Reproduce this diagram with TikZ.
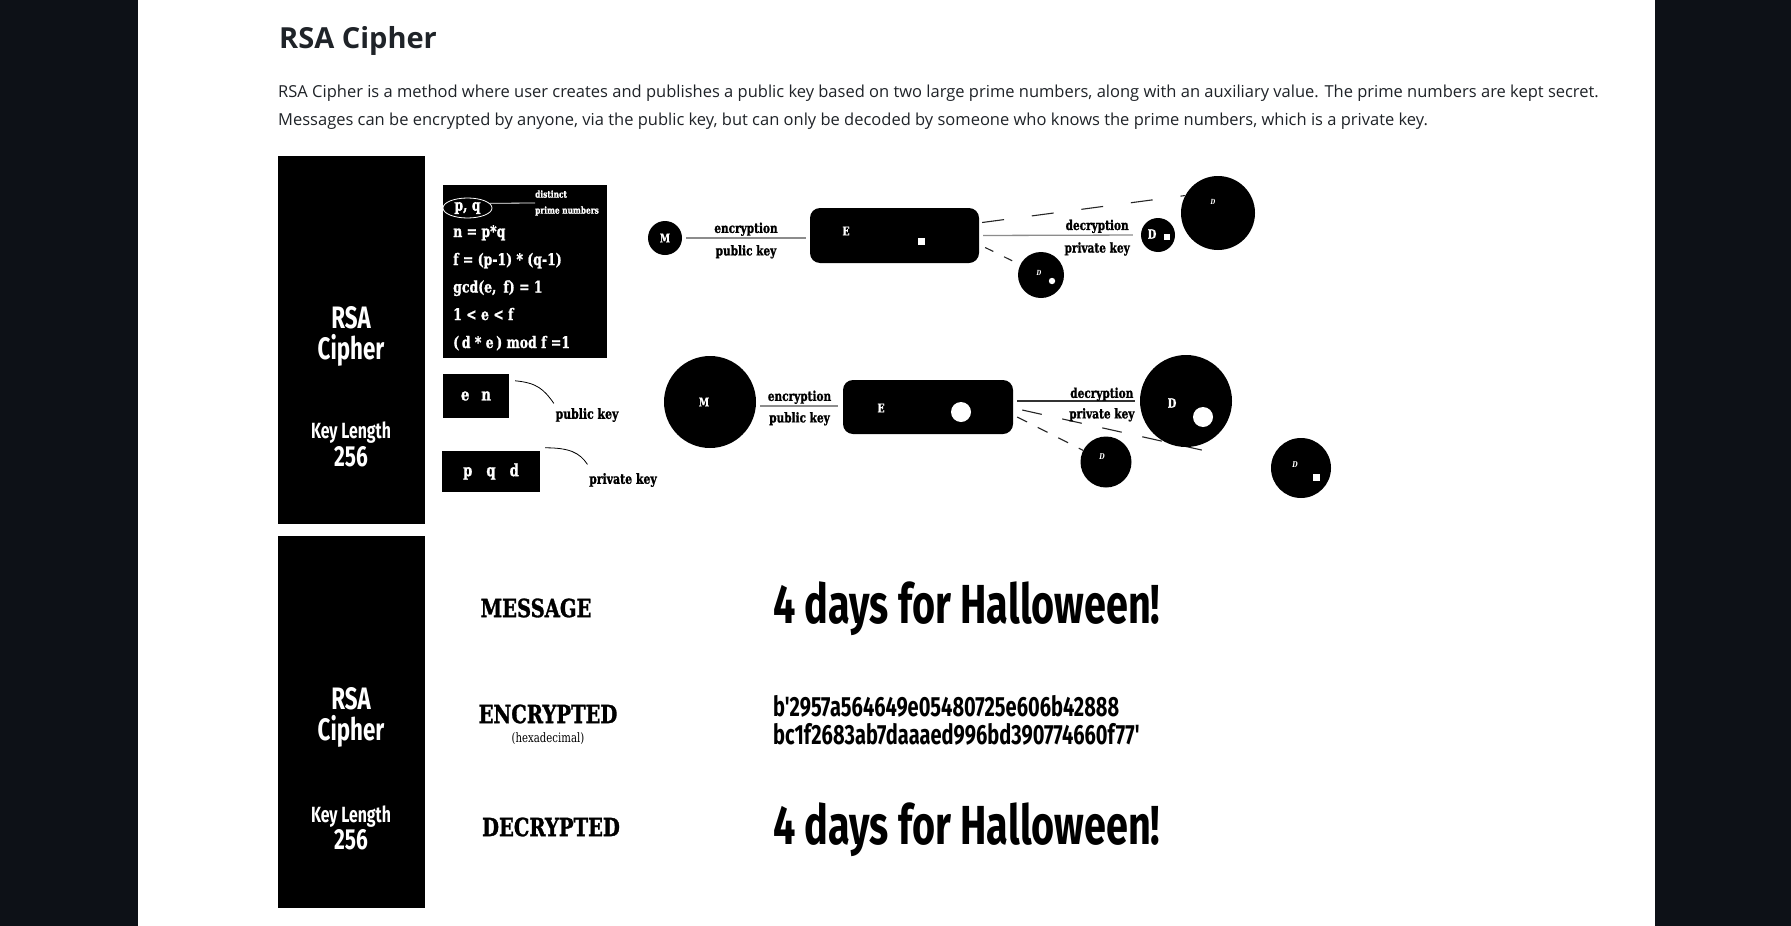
\documentclass[tikz,border=0pt]{standalone}
\usepackage{fontspec}
\setmainfont{Open Sans}
\newfontfamily\merri[FakeStretch=0.78, BoldFeatures={FakeBold=1.2}]{DejaVu Serif}
\newfontfamily\oswald[FakeStretch=0.72]{Fira Sans}
\usetikzlibrary{shapes.geometric}
\definecolor{page}{HTML}{0D1117}
\definecolor{ink}{HTML}{1F2328}
\definecolor{rulegray}{HTML}{8C8C8C}

\begin{document}
\begin{tikzpicture}[x=1pt, y=-1pt,
  blob/.style={circle, fill=black, inner sep=0pt},
  slab/.style={rectangle, fill=black, inner sep=0pt},
  sidetxt/.style={text=white, align=center, inner sep=0pt},
  fml/.style={anchor=base west, text=white, inner sep=0pt, font=\merri\bfseries\fontsize{16}{18}\selectfont},
  wlbl/.style={text=white, inner sep=0pt, font=\merri\bfseries\fontsize{12}{14}\selectfont},
  dmark/.style={text=white, inner sep=0pt, font=\merri\bfseries\itshape\fontsize{7}{8}\selectfont},
  flowlbl/.style={inner sep=1.5pt, font=\merri\bfseries\fontsize{13.5}{15}\selectfont},
  link/.style={draw=rulegray, line width=1.3pt},
  dashline/.style={draw=black!85, line width=1.1pt},
  bigserif/.style={inner sep=0pt, font=\merri\bfseries\fontsize{25}{28}\selectfont},
  halo/.style={anchor=base west, inner sep=0pt, font=\oswald\bfseries\fontsize{55}{60}\selectfont},
  hexline/.style={anchor=base west, inner sep=0pt, font=\oswald\bfseries\fontsize{27.8}{30}\selectfont}]

  % Page
  \fill[page] (0,0) rectangle (1791,926);
  \fill[white] (138,0) rectangle (1655,926);
  \useasboundingbox (0,0) rectangle (1791,926);

  % Heading and text
  \node[anchor=base west, inner sep=0pt, text=ink, font=\bfseries\fontsize{29}{34}\selectfont] (title) at (279,48) {RSA Cipher};
  \node[anchor=base west, inner sep=0pt, text=ink, font=\fontsize{16.5}{20}\selectfont] (intro1) at (278,97)
    {RSA Cipher is a method where user creates and publishes a public key based on two large prime numbers, along with an auxiliary value. The prime numbers are kept secret.};
  \node[anchor=base west, inner sep=0pt, text=ink, font=\fontsize{16.5}{20}\selectfont] (intro2) at (278,125)
    {Messages can be encrypted by anyone, via the public key, but can only be decoded by someone who knows the prime numbers, which is a private key.};

  % Side panels
  \node[slab, minimum width=147pt, minimum height=368pt] (side1) at (351.5,340) {};
  \node[sidetxt, font=\oswald\bfseries\fontsize{31}{31}\selectfont] (name1) at (351,336) {RSA\\Cipher};
  \node[sidetxt, font=\oswald\bfseries\fontsize{22}{24}\selectfont] (klen1) at (351,433) {Key Length};
  \node[sidetxt, font=\oswald\bfseries\fontsize{29}{30}\selectfont] (kval1) at (351,457) {256};

  \node[slab, minimum width=147pt, minimum height=372pt] (side2) at (351.5,722) {};
  \node[sidetxt, font=\oswald\bfseries\fontsize{31}{31}\selectfont] (name2) at (351,717) {RSA\\Cipher};
  \node[sidetxt, font=\oswald\bfseries\fontsize{22}{24}\selectfont] (klen2) at (351,817) {Key Length};
  \node[sidetxt, font=\oswald\bfseries\fontsize{29}{30}\selectfont] (kval2) at (351,840) {256};

  % Key formulas
  \node[slab, minimum width=164pt, minimum height=173pt] (rules) at (525,271.5) {};
  \node[ellipse, draw=white, line width=0.8pt, text=white, inner sep=0pt,
        minimum width=49pt, minimum height=20pt, font=\merri\bfseries\fontsize{16}{18}\selectfont] (pq) at (467.5,208) {p, q};
  \node[anchor=west, text=white, align=left, inner sep=0pt,
        font=\merri\bfseries\fontsize{9.5}{16}\selectfont] (primes) at (535,203) {distinct\\prime numbers};
  \draw[white, line width=0.8pt] (pq.12) -- (primes.west);
  \node[fml] at (453,237) {n = p*q};
  \node[fml] at (453,265) {f = (p-1) * (q-1)};
  \node[fml] at (453,292.5) {gcd(e,\, f) = 1};
  \node[fml] at (453,320) {1 < e < f};
  \node[fml] at (453,348) {(\,d * e\,) mod f =1};

  % Keys
  \node[slab, minimum width=66pt, minimum height=44pt, text=white,
        font=\merri\bfseries\fontsize{17}{18}\selectfont] (en) at (476,396) {e\hspace{12pt}n};
  \node[flowlbl, font=\merri\bfseries\fontsize{14}{15}\selectfont] (pub) at (587,415) {public key};
  \draw[line width=0.8pt] ([xshift=6pt,yshift=-7pt]en.north east) .. controls +(22,2) and +(-10,-14) .. ([yshift=3pt]pub.north west);

  \node[slab, minimum width=98pt, minimum height=41pt, text=white,
        font=\merri\bfseries\fontsize{17}{18}\selectfont] (pqd) at (491,471.5) {p\hspace{14pt}q\hspace{14pt}d};
  \node[flowlbl, font=\merri\bfseries\fontsize{14}{15}\selectfont] (priv) at (623,480) {private key};
  \draw[line width=0.8pt] ([xshift=5pt,yshift=3pt]pqd.north east) .. controls +(24,0) and +(-8,-12) .. ([yshift=7pt]priv.north west);

  % Small flow
  \node[blob, minimum size=34pt] (m1) at (665,238) {};
  \node[wlbl] at (m1) {M};
  \node[slab, rounded corners=10pt, minimum width=169pt, minimum height=55pt] (e1) at (894.5,235.5) {};
  \node[wlbl] at (846,231) {E};
  \fill[white] (917.5,237.5) rectangle (924.5,244.5);
  \node[blob, minimum size=34pt] (d1) at (1158,235) {};
  \node[wlbl, font=\merri\bfseries\fontsize{13}{14}\selectfont] at (1152,234) {D};
  \fill[white] (1164,234) rectangle (1170,240);
  \node[blob, minimum size=74pt] (d2) at (1218,213) {};
  \node[dmark] at (1213,202) {D};
  \node[blob, minimum size=46pt] (d3) at (1041,275) {};
  \node[dmark] at (1039,273) {D};
  \fill[white] (1052,281) circle (3.2pt);

  \draw[link, shorten <=4pt, shorten >=4pt] (m1.east) -- (m1.east -| e1.west)
    node[flowlbl, midway, above] {encryption}
    node[flowlbl, midway, below=5pt] {public key};
  \draw[link, shorten <=4pt, shorten >=8pt] (e1.east) -- (d1.west)
    node[flowlbl, pos=0.73, above] {decryption}
    node[flowlbl, pos=0.73, below=5pt] {private key};
  \draw[dashline, dash pattern=on 22pt off 28pt] ([xshift=3pt,yshift=13pt]e1.east) -- (d2.152);
  \draw[dashline, dash pattern=on 9pt off 12pt] ([xshift=6pt,yshift=-12pt]e1.east) -- (d3);

  % Large flow
  \node[blob, minimum size=92pt] (m2) at (710,402) {};
  \node[wlbl] at (704,402) {M};
  \node[slab, rounded corners=10pt, minimum width=170pt, minimum height=54pt] (e2) at (928,407) {};
  \node[wlbl] at (881,408) {E};
  \fill[white] (961,412) circle (10pt);

  \coordinate (tail) at (1215,453);
  \draw[dashline, dash pattern=on 20pt off 21pt] ([xshift=9pt,yshift=-3pt]e2.east) -- (tail);

  \node[blob, minimum size=92pt] (d4) at (1186,401) {};
  \node[wlbl, font=\merri\bfseries\fontsize{13}{14}\selectfont] at (1172,403) {D};
  \fill[white] (1203,417) circle (10pt);
  \node[blob, minimum size=51pt] (d5) at (1106,462) {};
  \node[dmark, font=\merri\bfseries\itshape\fontsize{8}{9}\selectfont] at (1102,457) {D};
  \node[blob, minimum size=60pt] (d6) at (1301,468) {};
  \node[dmark, font=\merri\bfseries\itshape\fontsize{8}{9}\selectfont] at (1295,465) {D};
  \fill[white] (1312.5,473.5) rectangle (1319.5,480.5);

  \draw[link, shorten <=4pt, shorten >=5pt] ([yshift=-4pt]m2.east) -- ([yshift=-4pt]m2.east -| e2.west)
    node[flowlbl, midway, above] {encryption}
    node[flowlbl, midway, below=4pt] {public key};
  \draw[link, draw=black!80, shorten <=4pt, shorten >=5pt] (e2.east |- d4) -- (d4.west)
    node[flowlbl, pos=0.70, above=-2pt] {decryption}
    node[flowlbl, pos=0.70, below=5pt] {private key};
  \draw[dashline, dash pattern=on 11pt off 12pt] ([xshift=4pt,yshift=-10pt]e2.east) -- (d5);

  % Example message
  \node[bigserif] (msg) at (536,608) {MESSAGE};
  \node[bigserif] (enc) at (548,714) {ENCRYPTED};
  \node[inner sep=0pt, font=\merri\fontsize{13}{14}\selectfont] (hexnote) at (548,739) {(hexadecimal)};
  \node[bigserif] (dec) at (551,827) {DECRYPTED};

  \node[halo] (plain) at (773,623) {4 days for Halloween!};
  \node[hexline] (cipher1) at (773,716) {b'2957a564649e05480725e606b42888};
  \node[hexline] (cipher2) at (773,744) {bc1f2683ab7daaaed996bd390774660f77'};
  \node[halo] (back) at (773,844) {4 days for Halloween!};

\end{tikzpicture}
\end{document}
